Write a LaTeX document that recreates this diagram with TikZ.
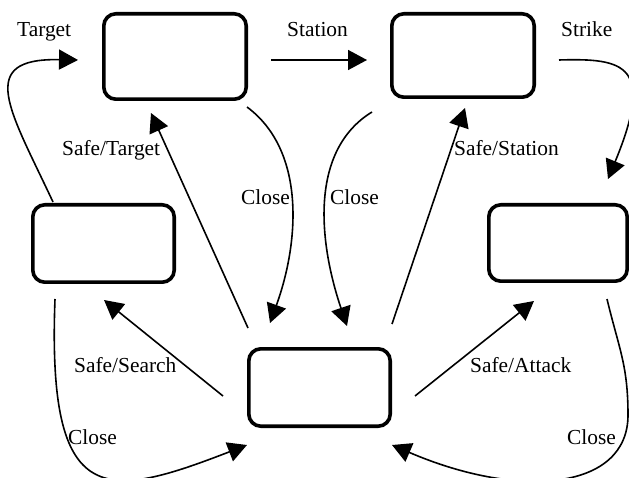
\documentclass[tikz,border=0pt]{standalone}
\usepackage{fontspec}
\setmainfont{Liberation Serif}
\usetikzlibrary{arrows.meta}
\begin{document}
\begin{tikzpicture}[x=1pt,y=-1pt,
 box/.style={draw, line width=3.6pt, rounded corners=12pt, inner sep=0pt},
 conn/.style={line width=1.6pt, -{Triangle[length=19pt,width=20pt]}},
 lbl/.style={anchor=base west, inner sep=0pt, font=\fontsize{21.4}{25}\selectfont}]
\useasboundingbox (0,0) rectangle (629,478);
% states
\node[box, minimum width=142.4pt, minimum height=85.4pt] (A) at (175,56.5) {};
\node[box, minimum width=142.4pt, minimum height=83.4pt] (B) at (463,55.5) {};
\node[box, minimum width=141.4pt, minimum height=77.4pt] (C) at (103.5,243.5) {};
\node[box, minimum width=138.4pt, minimum height=76.4pt] (D) at (558,243) {};
\node[box, minimum width=141.4pt, minimum height=77.4pt] (E) at (319.5,387.5) {};
% connectors
\draw[conn] ([shift={(23,3.5)}]A.east) -- ([shift={(-23,4.5)}]B.west);
\draw[conn] ([shift={(23,4.5)}]B.east) .. controls +(66,-2) and +(47,-114) .. ([shift={(50,-24)}]D.north);
\draw[conn] ([shift={(-50.5,-1)}]C.north) .. controls +(-43,-92) and +(-103,-2) .. ([shift={(-24,3.5)}]A.west);
\draw[conn] ([shift={(1,-19)}]E.north west) -- ([shift={(-24,12)}]A.south);
\draw[conn] ([shift={(-1,6)}]A.south east) .. controls +(58,43) and +(30,-83) .. ([shift={(-49.5,-24)}]E.north);
\draw[conn] ([shift={(-18,13)}]B.south west) .. controls +(-62,38) and +(-29,-86) .. ([shift={(27.5,-21)}]E.north);
\draw[conn] ([shift={(0,-23)}]E.north east) -- ([shift={(2,9)}]B.south);
\draw[conn] ([shift={(-24,8.5)}]E.west) -- ([shift={(0.5,16)}]C.south);
\draw[conn] ([shift={(23,8.5)}]E.east) -- ([shift={(-24,18)}]D.south);
\draw[conn] ([shift={(24,15)}]C.south west) .. controls +(-8,211) and +(-142,55) .. ([shift={(0,17)}]E.south west);
\draw[conn] ([shift={(49,16)}]D.south) .. controls +(12,50) and +(0,-50) .. ([shift={(-1,132)}]D.south east) .. controls +(0,75) and +(128,55) .. ([shift={(0,17)}]E.south east);
% labels
\node[lbl] (lTarget) at (17,37) {Target};
\node[lbl] (lStation) at (287,37) {Station};
\node[lbl] (lStrike) at (561,37) {Strike};
\node[lbl] (lSafeTarget) at (62,156) {Safe/Target};
\node[lbl] (lCloseA) at (241,205) {Close};
\node[lbl] (lCloseB) at (330,205) {Close};
\node[lbl] (lSafeStation) at (454,156) {Safe/Station};
\node[lbl] (lSafeSearch) at (74,372) {Safe/Search};
\node[lbl] (lSafeAttack) at (470,372) {Safe/Attack};
\node[lbl] (lCloseC) at (68,444) {Close};
\node[lbl] (lCloseD) at (567,444) {Close};
\end{tikzpicture}
\end{document}
